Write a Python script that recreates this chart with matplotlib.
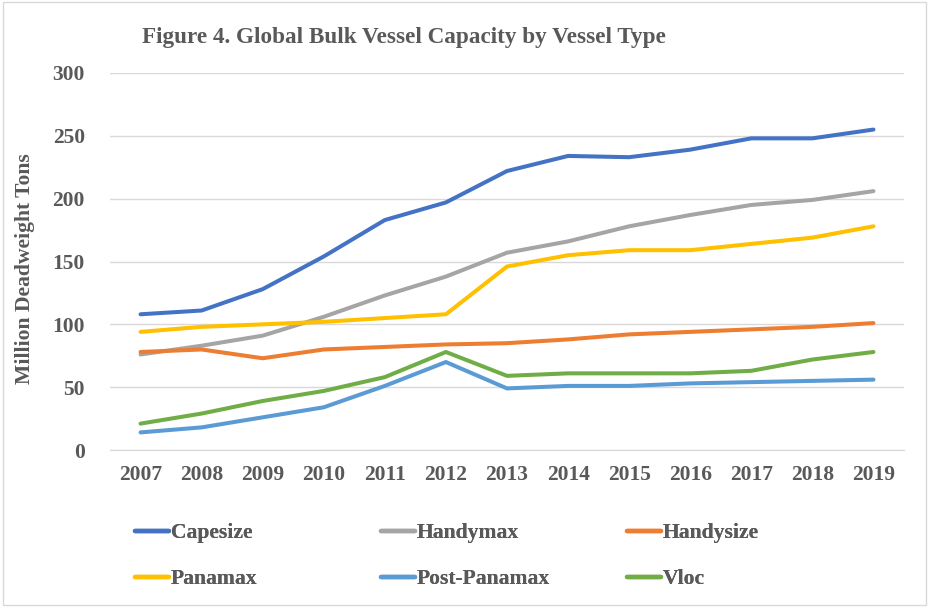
import matplotlib
matplotlib.use("Agg")
import matplotlib.pyplot as plt
from matplotlib.patches import Rectangle

years = ["2007", "2008", "2009", "2010", "2011", "2012", "2013",
         "2014", "2015", "2016", "2017", "2018", "2019"]
capesize = [108, 111, 128, 154, 183, 197, 222, 234, 233, 239, 248, 248, 255]
handymax = [76, 83, 91, 106, 123, 138, 157, 166, 178, 187, 195, 199, 206]
handysize = [78, 80, 73, 80, 82, 84, 85, 88, 92, 94, 96, 98, 101]
panamax = [94, 98, 100, 102, 105, 108, 146, 155, 159, 159, 164, 169, 178]
post_panamax = [14, 18, 26, 34, 51, 70, 49, 51, 51, 53, 54, 55, 56]
vloc = [21, 29, 39, 47, 58, 78, 59, 61, 61, 61, 63, 72, 78]
yticks = [0, 50, 100, 150, 200, 250, 300]

series = [
    ("Capesize", capesize, "#4472C4"),
    ("Handymax", handymax, "#A5A5A5"),
    ("Handysize", handysize, "#ED7D31"),
    ("Panamax", panamax, "#FFC000"),
    ("Post-Panamax", post_panamax, "#5B9BD5"),
    ("Vloc", vloc, "#70AD47"),
]

plt.rcParams['font.family'] = ['Liberation Serif', 'DejaVu Serif']
plt.rcParams['font.weight'] = 'bold'
txt = "#595959"

fig = plt.figure(figsize=(9.29, 6.07), dpi=100)
fig.patches.append(Rectangle((0.003, 0.003), 0.994, 0.994, transform=fig.transFigure,
                             fill=False, edgecolor="#D9D9D9", linewidth=1))
ax = fig.add_axes([110/929, 1 - 450/607, (904 - 110)/929, (450 - 73)/607])

x = list(range(len(years)))
lines = []
for name, vals, col in series:
    ln, = ax.plot(x, vals, color=col, linewidth=2.9, label=name, solid_capstyle='round')
    lines.append(ln)

ax.set_xlim(-0.5, len(years) - 0.5)
ax.set_ylim(0, 300)
ax.set_yticks(yticks)
ax.set_yticklabels([str(v) for v in yticks])
ax.set_xticks(x)
ax.set_xticklabels(years)
ax.grid(axis='y', color="#D9D9D9", linewidth=1)
ax.set_axisbelow(True)
for s in ['top', 'right', 'left']:
    ax.spines[s].set_visible(False)
ax.spines['bottom'].set_color("#D9D9D9")
ax.tick_params(axis='both', length=0, labelsize=15.5, colors=txt)
ax.tick_params(axis='x', pad=11)
ax.tick_params(axis='y', pad=18)
for lab in ax.get_xticklabels() + ax.get_yticklabels():
    lab.set_fontweight('bold')

renderer = fig.canvas.get_renderer()


def fit(t, target_px, vertical=False):
    bb = t.get_window_extent(renderer=renderer)
    cur = bb.height if vertical else bb.width
    t.set_fontsize(t.get_fontsize() * target_px / cur)


ylab = fig.text(25/929, 1 - 269/607, "Million Deadweight Tons", rotation=90, va='center',
                ha='center', fontsize=14, fontweight='bold', color=txt)
fit(ylab, 232, vertical=True)
title = fig.text(142/929, 1 - 38/607, "Figure 4. Global Bulk Vessel Capacity by Vessel Type",
                 fontsize=16.5, fontweight='bold', color=txt, va='center', ha='left')
fit(title, 521)

probe = fig.text(0, 0, "Capesize", fontsize=17, fontweight='bold')
pb = probe.get_window_extent(renderer=renderer)
leg_fs = 17 * 82 / pb.width
probe.remove()

col_x = [135, 381, 627]
for i, cx in enumerate(col_x):
    hs = [lines[i], lines[i + 3]]
    leg = fig.legend(hs, [h.get_label() for h in hs], loc='upper left',
                     bbox_to_anchor=(cx / 929, 1 - 523 / 607), borderaxespad=0, borderpad=0,
                     frameon=False, handlelength=1.55, handletextpad=0.1,
                     labelspacing=1.2, prop={'size': leg_fs, 'weight': 'bold'})
    for t in leg.get_texts():
        t.set_color(txt)
    for h in leg.get_lines():
        h.set_linewidth(3.2)
    fig.add_artist(leg)

fig.savefig("out.png", dpi=100)
